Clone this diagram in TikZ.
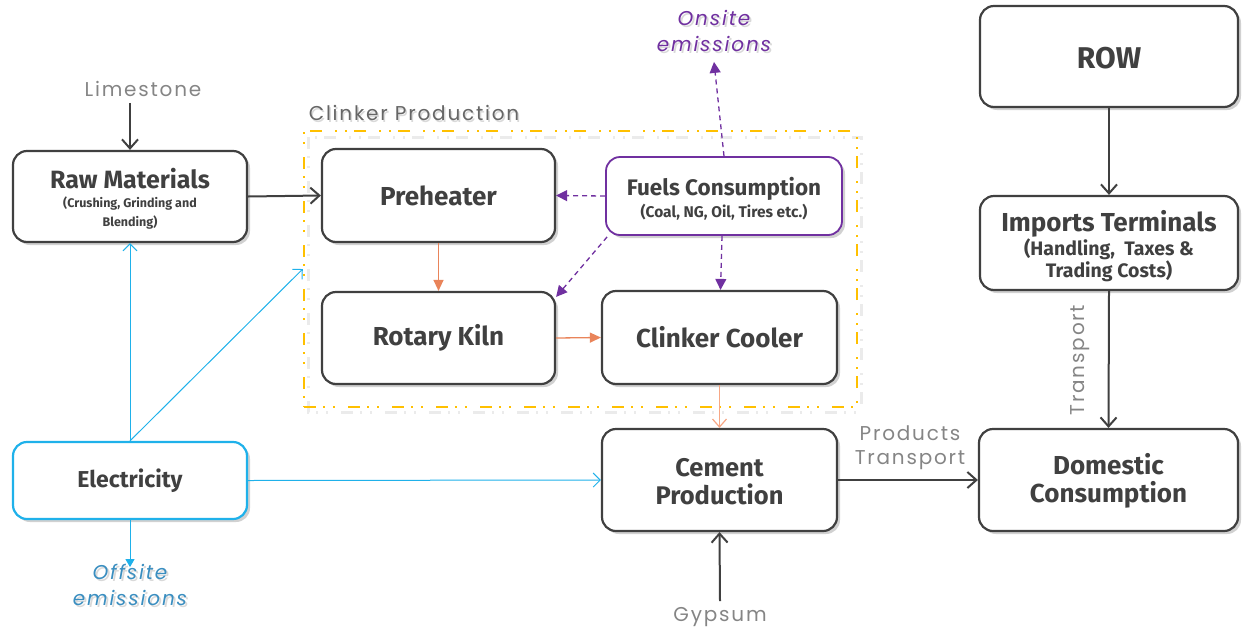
\documentclass[tikz,border=0pt]{standalone}
\usepackage{fontspec}
\setmainfont{Fira Sans}
\newfontfamily\labfont{Poppins}[LetterSpace=9]
\usetikzlibrary{arrows.meta,shadows}
\definecolor{ink}{HTML}{404040}
\definecolor{labgray}{HTML}{858585}
\definecolor{elblue}{HTML}{1FB1EA}
\definecolor{offblue}{HTML}{3A8EC0}
\definecolor{fuelpurple}{HTML}{7030A0}
\definecolor{kilnorange}{HTML}{E9845A}
\definecolor{coolorange}{HTML}{F7A785}
\definecolor{clkyellow}{HTML}{FFC000}
% bold box text: size, baseline skip
\newcommand\bxf[2]{\fontsize{#1}{#2}\selectfont\bfseries}
% strut that sets the height of a box's first line
\newcommand\topstrut[1]{\rule{0pt}{#1}}
\begin{document}
\begin{tikzpicture}[x=1pt,y=-1pt,
  box/.style={draw=ink, line width=2.2pt, rounded corners=14pt, fill=white,
    align=center, text=ink, inner sep=0pt,
    drop shadow={shadow xshift=3pt, shadow yshift=-3pt, opacity=0.3, fill=black!60}},
  bluebox/.style={box, draw=elblue},
  purplebox/.style={box, draw=fuelpurple, line width=1.8pt},
  lab/.style={text=labgray, font=\labfont\fontsize{20}{24}\selectfont, inner sep=0pt},
  emis/.style={font=\labfont\itshape\fontsize{20}{26}\selectfont, align=center, inner sep=0pt},
  flow/.style={draw=ink, line width=2pt, -{Straight Barb[length=9pt,width=16pt,line width=2pt]}},
  elec/.style={draw=elblue, line width=1pt, -{Straight Barb[length=7pt,width=14pt,line width=1pt]}},
  fuel/.style={draw=fuelpurple, line width=1.3pt, dash pattern=on 5pt off 4pt,
    -{Triangle[length=11pt,width=11pt]}},
  heat/.style={draw=kilnorange, line width=1.3pt, -{Triangle[length=11pt,width=10pt]}},
  cool/.style={draw=coolorange, line width=1.3pt, -{Straight Barb[length=8pt,width=14pt,line width=1.2pt]}},
  clkframe/.style={draw=clkyellow, line width=2.5pt,
    dash pattern=on 12pt off 7pt on 2pt off 8pt on 2pt off 13pt},
]
\useasboundingbox (0,0) rectangle (1244,632);

% clinker production frame with its soft grey shadow
\draw[black!8, line width=3pt, dash pattern=on 12pt off 7pt on 2pt off 8pt on 2pt off 13pt]
  (308,137) rectangle (861,412);
\node[clkframe, minimum width=553pt, minimum height=276pt, inner sep=0pt] (clk) at (580.5,269) {};
\node[lab, text=black!15] at (415.5,114.5) {Clinker Production};
\node[lab, text=black!60] (clklab) at (414,113) {Clinker Production};

% process boxes
\node[box, minimum width=234pt, minimum height=91pt, font=\bxf{12.5}{19}] (raw) at (130,196.5)
  {{\bxf{25}{28}\topstrut{24pt}Raw Materials}\\(Crushing, Grinding and\\Blending)};
\node[box, minimum width=233pt, minimum height=93pt, font=\bxf{26}{29}] (pre) at (438.5,195.5) {Preheater};
\node[purplebox, minimum width=236pt, minimum height=78pt, font=\bxf{15.5}{22}] (fuelc) at (724,196)
  {{\bxf{22.5}{26}\topstrut{23pt}Fuels Consumption}\\(Coal, NG, Oil, Tires etc.)};
\node[box, minimum width=233pt, minimum height=92pt, font=\bxf{26}{29}] (kiln) at (438.5,338) {Rotary Kiln};
\node[box, minimum width=235pt, minimum height=93pt, font=\bxf{26}{29}] (cooler) at (719.5,337.5) {Clinker Cooler};
\node[box, minimum width=235pt, minimum height=102pt, font=\bxf{25.5}{28}] (cem) at (719.5,480) {\topstrut{22pt}Cement\\Production};
\node[bluebox, minimum width=234pt, minimum height=77pt, font=\bxf{23}{26}] (elecn) at (130,480.5) {Electricity};
\node[box, minimum width=258pt, minimum height=101pt, font=\bxf{30}{32}] (row) at (1109,56.5) {\topstrut{25pt}ROW};
\node[box, minimum width=258pt, minimum height=94pt, font=\bxf{19.5}{22}] (imp) at (1109,243)
  {{\bxf{26}{28}\topstrut{27.5pt}Imports Terminals}\\[1pt](Handling,\ \ Taxes \&\\Trading Costs)};
\node[box, minimum width=259pt, minimum height=102pt, font=\bxf{26}{28}] (dom) at (1108.5,480) {\topstrut{22.5pt}Domestic\\Consumption};

% free labels
\node[lab] (lime) at (143,89) {Limestone};
\node[lab] (gyp) at (720,617) {Gypsum};
\node[lab, align=center] (prodtr) at (910,448) {Products\\Transport};
\node[lab, rotate=90] (transp) at (1080,360) {Transport};
\node[emis, text=black!15] at (716,33) {Onsite\\emissions};
\node[emis, text=fuelpurple] (onsite) at (714,31) {Onsite\\emissions};
\node[emis, text=black!15] at (132,587) {Offsite\\emissions};
\node[emis, text=offblue] (offsite) at (130,585) {Offsite\\emissions};

% material flows
\draw[flow] (raw.north |- lime.south) ++(0,6) -- (raw.north);
\draw[flow] (raw.east) -- (pre.west);
\draw[flow] (row.south) -- (imp.north);
\draw[flow] (imp.south) -- (dom.north);
\draw[flow] (cem.east) -- (dom.west);
\draw[flow] (gyp.north) ++(0,-6) -- (cem.south);

% clinker line
\draw[heat] (pre.south) -- (kiln.north);
\draw[heat] (kiln.east) -- (cooler.west);
\draw[cool] (cooler.south) -- (cem.north);

% fuel supply and emissions
\draw[fuel] (fuelc.west) -- (pre.east);
\draw[fuel] (fuelc.south west) ++(2,1) -- ([yshift=-6pt]kiln.north east);
\draw[fuel] ([xshift=-2pt]fuelc.south) -- ([xshift=1pt]cooler.north);
\draw[fuel] (fuelc.north) -- ([yshift=-10pt]onsite.south);

% electricity supply
\draw[elec] (elecn.north) -- (raw.south);
\draw[elec] (elecn.north) -- (clk.west);
\draw[elec] (elecn.east) -- (cem.west);
\draw[draw=elblue, line width=1pt, -{Triangle[length=8pt,width=9pt]}] (elecn.south) -- ([yshift=-3pt]offsite.north);
\end{tikzpicture}
\end{document}
